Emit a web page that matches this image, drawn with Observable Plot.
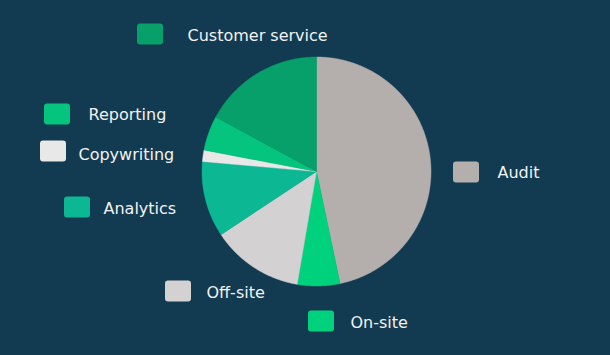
<!DOCTYPE html>
<html>
<head>
<meta charset="utf-8">
<script src="https://cdn.jsdelivr.net/npm/d3@7"></script>
<script src="https://cdn.jsdelivr.net/npm/@observablehq/plot@0.6"></script>
<style>
  html, body { margin: 0; padding: 0; background: #123a50; }
  #chart svg { display: block; }
</style>
</head>
<body>
<div id="chart"></div>
<script>
// Data
const categories = ["Audit", "On-site", "Off-site", "Analytics", "Copywriting", "Reporting", "Customer service"];
const values = [46.7, 6.0, 13.0, 10.7, 1.6, 4.9, 17.1];
const colors = ["#b4afad", "#00d17c", "#d4d1d2", "#0cb894", "#e8e8e8", "#04c47e", "#07a06a"];

// Layout (pixel space)
const W = 610, H = 355;
const cx = 316, cy = 171, R = 114.5;
// swatch centre and text start for each category label
const labelLayout = [
  {sx: 466, sy: 172, tx: 497, ty: 172},
  {sx: 321, sy: 321, tx: 350, ty: 322},
  {sx: 178, sy: 291, tx: 206, ty: 292},
  {sx: 77,  sy: 207, tx: 103, ty: 208},
  {sx: 53,  sy: 151, tx: 78,  ty: 154},
  {sx: 57,  sy: 114, tx: 88,  ty: 114},
  {sx: 150, sy: 34,  tx: 187, ty: 35}
];

const total = d3.sum(values);
const slicePts = [];
let acc = 0;
categories.forEach((name, i) => {
  const a0 = acc / total * 2 * Math.PI;
  acc += values[i];
  const a1 = acc / total * 2 * Math.PI;
  slicePts.push({name, color: colors[i], x: cx, y: cy});
  const n = Math.max(2, Math.ceil((a1 - a0) / 0.005));
  for (let k = 0; k <= n; k++) {
    const a = a0 + (a1 - a0) * k / n;
    slicePts.push({name, color: colors[i], x: cx + R * Math.sin(a), y: cy - R * Math.cos(a)});
  }
  slicePts.push({name, color: colors[i], x: cx, y: cy});
});

const labels = categories.map((name, i) => ({name, color: colors[i], ...labelLayout[i]}));

const chart = Plot.plot({
  width: W,
  height: H,
  margin: 0,
  x: {domain: [0, W], range: [0, W], axis: null},
  y: {domain: [0, H], range: [0, H], axis: null},
  color: {type: "identity"},
  style: {background: "#123a50", fontFamily: "DejaVu Sans"},
  marks: [
    Plot.line(slicePts, {x: "x", y: "y", z: "name", fill: "color", stroke: "color", strokeWidth: 0.5}),
    Plot.rect(labels, {
      x1: d => d.sx - 13, x2: d => d.sx + 13,
      y1: d => d.sy - 10.5, y2: d => d.sy + 10.5,
      fill: "color", rx: 3, ry: 3
    }),
    Plot.text(labels, {
      x: "tx", y: "ty", text: "name", textAnchor: "start",
      fill: "#f2f2f2", fontSize: 16, fontFamily: "DejaVu Sans"
    })
  ]
});
document.getElementById("chart").appendChild(chart);
</script>
</body>
</html>
